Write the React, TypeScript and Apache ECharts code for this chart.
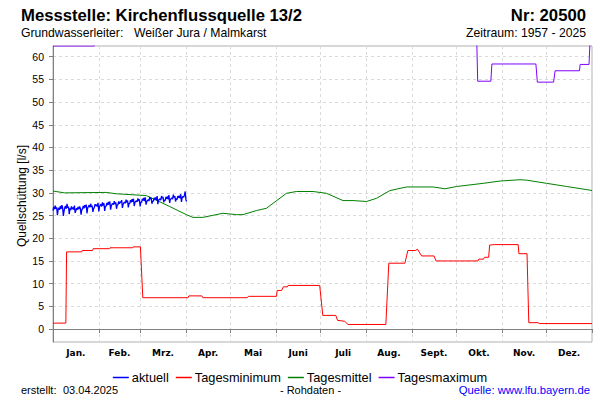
import React, { useEffect, useRef } from "react";
import * as echarts from "echarts";

// month boundaries (day of year) and month label positions
const monthStarts = [0, 31, 59, 90, 120, 151, 181, 212, 243, 273, 304, 334, 365];
const monthNames = ["Jan.", "Feb.", "Mrz.", "Apr.", "Mai", "Juni", "Juli", "Aug.", "Sept.", "Okt.", "Nov.", "Dez."];
const yTicks = [0, 5, 10, 15, 20, 25, 30, 35, 40, 45, 50, 55, 60];

// aktuell: half-day samples starting 01.01.
const aktuell = [
  26.1, 26.9, 26.4, 27.2, 26.5, 26.8, 25.1, 26.4,
  26.7, 26.3, 27.1, 26.5, 27.3, 26.8, 24.9, 26.0,
  26.8, 27.1, 26.5, 27.6, 26.7, 27.0, 25.3, 26.6,
  26.2, 27.0, 26.4, 26.8, 26.3, 27.2, 25.6, 26.1,
  26.6, 26.3, 26.9, 26.4, 27.0, 26.6, 25.2, 26.3,
  26.5, 27.1, 26.6, 27.3, 26.8, 27.4, 25.5, 26.7,
  27.0, 27.3, 26.8, 27.6, 26.9, 27.2, 25.8, 26.5,
  26.8, 27.5, 27.1, 27.4, 27.0, 27.8, 25.9, 26.9,
  27.3, 27.5, 27.0, 27.9, 27.2, 27.7, 26.0, 27.0,
  27.1, 27.8, 27.3, 28.0, 27.4, 28.1, 26.3, 27.2,
  27.5, 27.7, 27.4, 28.2, 27.5, 27.9, 26.5, 27.3,
  27.4, 28.1, 27.6, 28.0, 27.9, 28.4, 26.7, 27.5,
  27.8, 28.0, 27.7, 28.5, 27.9, 28.3, 26.8, 27.7,
  27.7, 28.4, 27.9, 28.6, 28.0, 28.7, 27.1, 27.9,
  28.1, 28.3, 28.0, 28.8, 28.2, 28.6, 27.0, 28.0,
  27.9, 28.7, 28.3, 28.9, 28.2, 29.0, 27.4, 28.1,
  28.3, 28.5, 28.2, 29.1, 28.6, 28.9, 27.6, 28.3,
  28.1, 28.9, 28.5, 29.0, 28.4, 29.3, 27.5, 28.4,
  28.5, 28.7, 28.4, 29.3, 28.8, 29.1, 27.9, 28.5,
  28.3, 29.1, 28.7, 29.2, 28.6, 29.5, 27.8, 28.6,
  28.7, 28.9, 28.6, 29.6, 29.0, 29.3, 28.1, 28.8,
  28.5, 29.3, 28.9, 29.4, 28.8, 29.7, 28.0, 29.0,
  29.2, 29.0, 29.5, 30.3, 28.5, 28.1,
];

// Tagesminimum: [day, value]
const tagesminimum = [
  [0, 1.3], [8.7, 1.3], [9.2, 17.0], [19.5, 17.0], [19.8, 17.3], [26.8, 17.3], [27.2, 17.7],
  [38.3, 17.7], [38.6, 17.9], [54, 17.9], [54.3, 18.1], [59.2, 18.1], [60.8, 6.9], [91.5, 6.9],
  [92, 7.3], [100.8, 7.3], [101.5, 6.9], [131.4, 6.9], [132.5, 7.2], [151.4, 7.2], [151.8, 8.5],
  [154.8, 8.5], [156, 9.3], [158.7, 9.3], [159.2, 9.6], [180.6, 9.6], [182.7, 3.0], [191.5, 3.0],
  [192.7, 1.9], [195.5, 1.8], [197.5, 1.7], [199.8, 1.0], [225.4, 1.0], [227.4, 14.5], [238.3, 14.5],
  [240.3, 17.3], [245.5, 17.3], [246.8, 17.6], [249.6, 16.1], [258, 16.1], [259.4, 15.0], [287.8, 15.0],
  [288.3, 15.4], [291.5, 15.4], [292.2, 15.8], [295, 15.8], [295.7, 18.5], [298.8, 18.6], [315, 18.6],
  [315.5, 16.6], [321, 16.6], [322.2, 1.4], [328.5, 1.4], [329.2, 1.2], [365, 1.2],
];

// Tagesmittel: [day, value]
const tagesmittel = [
  [0, 30.4], [7.8, 30.0], [36, 30.1], [42.8, 29.8], [63.2, 29.4], [79, 27.0], [90.3, 25.2],
  [94.8, 24.6], [101.5, 24.6], [115.1, 25.5], [124.2, 25.2], [128.7, 25.2], [137.7, 26.1],
  [144.5, 26.6], [158.1, 29.9], [164.8, 30.3], [176.1, 30.3], [185.2, 29.9], [196.4, 28.3],
  [203.2, 28.3], [212.3, 28.1], [219.1, 28.8], [228.1, 30.5], [239.4, 31.3], [257.4, 31.3],
  [265.4, 30.9], [273.3, 31.4], [291.3, 32.1], [302.6, 32.6], [316.2, 32.9], [320.7, 32.8],
  [334.3, 32.1], [347.9, 31.4], [363.7, 30.6], [365, 30.5],
];

// Tagesmaximum: [day, value] (values above the axis top are cut off)
const tagesmaximum = [
  [0, 62.36], [28, 62.36], [28.5, 70], [286.5, 70], [287.6, 54.6], [296.5, 54.6], [297.2, 58.4],
  [327, 58.4], [328, 54.4], [339, 54.4], [340, 56.9], [356.5, 56.9], [357, 58.3], [363, 58.3],
  [364.5, 70], [365, 70],
];

const AX = "#808080";
const GRIDC = "#dadada";
const SANS = "'Liberation Sans', Arial, sans-serif";

function txt(text: string, x: number, y: number, size: number, opts: any = {}) {
  const align = opts.align || "left";
  return {
    type: "text",
    x,
    y,
    rotation: opts.rotation || 0,
    silent: true,
    style: {
      text,
      fontSize: size,
      fontFamily: SANS,
      fontWeight: opts.bold ? "bold" : "normal",
      fill: opts.color || "#000",
      align,
      textAlign: align,
      verticalAlign: "middle",
      textVerticalAlign: "middle",
    },
  };
}

export default function App() {
  const ref = useRef<HTMLDivElement>(null);
  useEffect(() => {
    if (!ref.current) return;
    const chart = echarts.init(ref.current, null, { renderer: "svg" });
    const mids = monthStarts.slice(0, 12).map((s, i) => (s + monthStarts[i + 1]) / 2);
    chart.setOption({
      animation: false,
      backgroundColor: "#ffffff",
      grid: {
        left: 53,
        right: 8,
        top: 46,
        bottom: 58,
        show: true,
        borderColor: "#b0b0b0",
        borderWidth: 1,
      },
      legend: {
        top: 366,
        left: "center",
        icon: "rect",
        itemWidth: 16,
        itemHeight: 1.5,
        itemGap: 7,
        textStyle: { fontSize: 12.8, fontFamily: SANS, color: "#000", padding: [0, 0, 0, -2] },
        data: ["aktuell", "Tagesminimum", "Tagesmittel", "Tagesmaximum"],
      },
      xAxis: {
        type: "value",
        min: 0,
        max: 365,
        axisLine: { show: true, lineStyle: { color: AX, width: 1 } },
        axisTick: { show: true, customValues: monthStarts, length: 4, lineStyle: { color: AX } },
        splitLine: { show: true, lineStyle: { type: [3, 3], color: GRIDC } },
        axisLabel: {
          customValues: mids,
          formatter: (v: number) => {
            const i = mids.findIndex((m) => Math.abs(m - v) < 0.01);
            return i >= 0 ? monthNames[i] : "";
          },
          fontSize: 9,
          fontWeight: "bold",
          fontFamily: "'DejaVu Sans', Verdana, sans-serif",
          color: "#000",
          margin: 6,
        },
      },
      yAxis: {
        type: "value",
        min: -2.86,
        max: 62.36,
        axisLine: { show: true, lineStyle: { color: AX, width: 1 } },
        axisTick: { show: true, customValues: yTicks, length: 4, lineStyle: { color: AX } },
        splitLine: { show: true, lineStyle: { type: [3, 3], color: GRIDC } },
        axisLabel: {
          customValues: yTicks,
          fontSize: 10.5,
          fontFamily: SANS,
          color: "#000",
          margin: 9,
        },
      },
      graphic: [
        txt("Messstelle: Kirchenflussquelle 13/2", 21, 15, 16.7, { bold: true }),
        txt("Nr: 20500", 586, 15, 16.7, { bold: true, align: "right" }),
        txt("Grundwasserleiter:", 21, 33, 12.2),
        txt("Weißer Jura / Malmkarst", 134, 33, 12.2),
        txt("Zeitraum: 1957 - 2025", 586, 33, 12.2, { align: "right" }),
        txt("Quellschüttung [l/s]", 21.5, 196, 12, { align: "center", rotation: Math.PI / 2 }),
        txt("erstellt:", 21, 390, 11),
        txt("03.04.2025", 63, 390, 11),
        txt("- Rohdaten -", 310.5, 390, 11, { align: "center" }),
        txt("Quelle: www.lfu.bayern.de", 590, 390, 11.3, { align: "right", color: "#0000ff" }),
      ],
      series: [
        {
          name: "aktuell",
          type: "line",
          data: aktuell.map((v, i) => [i * 0.5, v]),
          showSymbol: false,
          symbol: "none",
          color: "#0000ff",
          lineStyle: { width: 1.3, color: "#0000ff" },
          z: 5,
        },
        {
          name: "Tagesminimum",
          type: "line",
          data: tagesminimum,
          showSymbol: false,
          symbol: "none",
          color: "#ff0000",
          lineStyle: { width: 1, color: "#ff0000" },
        },
        {
          name: "Tagesmittel",
          type: "line",
          data: tagesmittel,
          showSymbol: false,
          symbol: "none",
          color: "#008000",
          lineStyle: { width: 1, color: "#008000" },
        },
        {
          name: "Tagesmaximum",
          type: "line",
          data: tagesmaximum,
          showSymbol: false,
          symbol: "none",
          clip: true,
          color: "#8000ff",
          lineStyle: { width: 1, color: "#8000ff" },
        },
      ],
    });
    return () => chart.dispose();
  }, []);
  return (
    <div
      ref={ref}
      style={{ position: "fixed", left: 0, top: 0, width: 600, height: 400, background: "#fff" }}
    />
  );
}
